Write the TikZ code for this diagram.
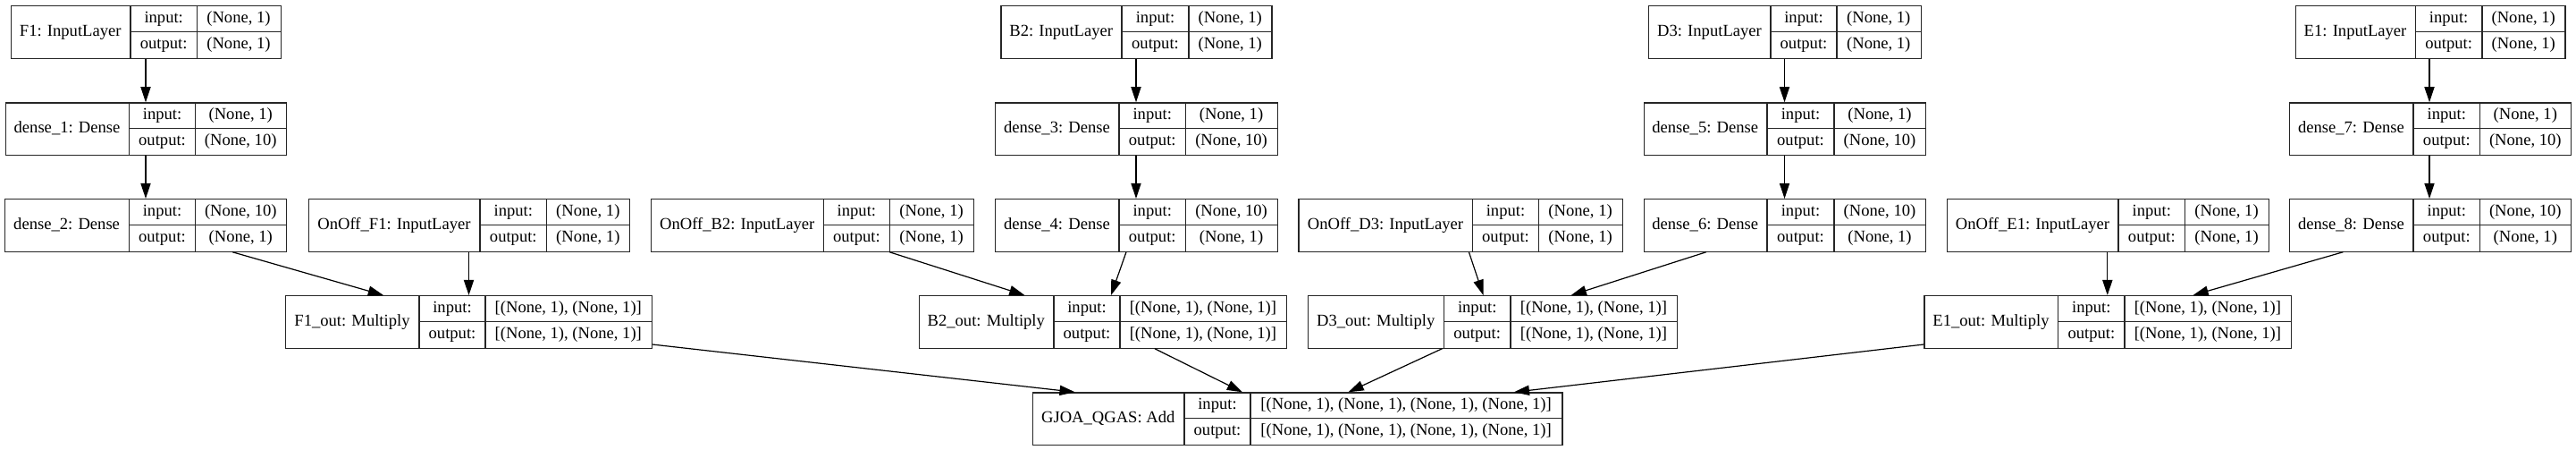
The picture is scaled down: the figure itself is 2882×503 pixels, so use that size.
\documentclass[tikz,border=0pt]{standalone}
\usepackage{fontspec}
\setmainfont{Liberation Serif}
\usetikzlibrary{arrows.meta,calc}
\tikzset{
  box/.style={draw=black!85, fill=white, line width=0.6pt, inner sep=0pt, minimum height=29.25pt},
  ln/.style={draw=black!85, line width=0.6pt},
  txt/.style={inner sep=0pt, font=\fontsize{9.3}{11}\selectfont, text height=6.6pt, text depth=2.1pt},
  arr/.style={draw=black, line width=0.6pt, -{Triangle[length=8.6pt,width=5.6pt]}}
}
\newcommand\layer[9]{%
  \pgfmathsetmacro\yb{#6+58.5}\pgfmathsetmacro\ym{#6+29.5}%
  \pgfmathsetmacro\ya{#6+14.9}\pgfmathsetmacro\yc{#6+44.1}%
  \pgfmathsetmacro\xa{(#2+#3)/2}\pgfmathsetmacro\xb{(#3+#4)/2}\pgfmathsetmacro\xc{(#4+#5)/2}%
  \node[box, minimum width={(#5-#2)*0.5pt}, anchor=north west] (#1) at (#2,#6) {};
  \draw[ln] (#3,#6) -- (#3,\yb) (#4,#6) -- (#4,\yb) (#3,\ym) -- (#5,\ym);
  \node[txt] (#1-name) at (\xa,\ym) {#7};
  \node[txt] (#1-in) at (\xb,\ya) {input:};
  \node[txt] (#1-out) at (\xb,\yc) {output:};
  \node[txt] (#1-inv) at (\xc,\ya) {#8};
  \node[txt] (#1-outv) at (\xc,\yc) {#9};
}
\begin{document}
\begin{tikzpicture}[x=0.5pt, y=-0.5pt]
\fill[white] (0,0) rectangle (2882,503);
\useasboundingbox (0,0) rectangle (2882,503);
% column F1
\layer{F1}{11.5}{146}{220.4}{313.6}{6}{F1: InputLayer}{(None, 1)}{(None, 1)}
\layer{d1}{5.5}{144.6}{218.5}{320}{114.3}{dense\_1: Dense}{(None, 1)}{(None, 10)}
\layer{d2}{4.8}{144.4}{218.6}{320}{222}{dense\_2: Dense}{(None, 10)}{(None, 1)}
\layer{onF1}{345}{537}{611.6}{704}{222}{OnOff\_F1: InputLayer}{(None, 1)}{(None, 1)}
\layer{F1out}{319}{469}{543}{728.6}{330}{F1\_out: Multiply}{[(None, 1), (None, 1)]}{[(None, 1), (None, 1)]}
% column B2
\layer{B2}{1119.4}{1255}{1330}{1422.4}{6}{B2: InputLayer}{(None, 1)}{(None, 1)}
\layer{d3}{1113}{1252}{1326.5}{1428.6}{114.3}{dense\_3: Dense}{(None, 1)}{(None, 10)}
\layer{onB2}{728}{921.4}{995.4}{1088.8}{222}{OnOff\_B2: InputLayer}{(None, 1)}{(None, 1)}
\layer{d4}{1112.8}{1252}{1326.5}{1428.6}{222}{dense\_4: Dense}{(None, 10)}{(None, 1)}
\layer{B2out}{1027.6}{1179}{1253}{1438.8}{330}{B2\_out: Multiply}{[(None, 1), (None, 1)]}{[(None, 1), (None, 1)]}
% column D3
\layer{D3}{1844}{1981}{2055}{2148.5}{6}{D3: InputLayer}{(None, 1)}{(None, 1)}
\layer{d5}{1838.5}{1977}{2052}{2154}{114.3}{dense\_5: Dense}{(None, 1)}{(None, 10)}
\layer{onD3}{1452.4}{1647.5}{1721.5}{1814.7}{222}{OnOff\_D3: InputLayer}{(None, 1)}{(None, 1)}
\layer{d6}{1838.5}{1977}{2052}{2154}{222}{dense\_6: Dense}{(None, 10)}{(None, 1)}
\layer{D3out}{1463}{1615.4}{1690}{1876}{330}{D3\_out: Multiply}{[(None, 1), (None, 1)]}{[(None, 1), (None, 1)]}
% column E1
\layer{E1}{2567.8}{2702.3}{2777}{2869.4}{6}{E1: InputLayer}{(None, 1)}{(None, 1)}
\layer{d7}{2560.8}{2700}{2774.6}{2876}{114.3}{dense\_7: Dense}{(None, 1)}{(None, 10)}
\layer{onE1}{2178}{2370}{2444.6}{2537.5}{222}{OnOff\_E1: InputLayer}{(None, 1)}{(None, 1)}
\layer{d8}{2560.8}{2700}{2774.6}{2876}{222}{dense\_8: Dense}{(None, 10)}{(None, 1)}
\layer{E1out}{2152.3}{2302.7}{2377}{2562.7}{330}{E1\_out: Multiply}{[(None, 1), (None, 1)]}{[(None, 1), (None, 1)]}
% sum
\layer{sum}{1154.5}{1325}{1399}{1747.3}{438.3}{GJOA\_QGAS: Add}{[(None, 1), (None, 1), (None, 1), (None, 1)]}{[(None, 1), (None, 1), (None, 1), (None, 1)]}
% connectors
\draw[arr] (F1.south -| 163,0) -- (d1.north -| 163,0);
\draw[arr] (d1.south -| 163,0) -- (d2.north -| 163,0);
\draw[arr] (B2.south -| 1271,0) -- (d3.north -| 1271,0);
\draw[arr] (d3.south -| 1271,0) -- (d4.north -| 1271,0);
\draw[arr] (D3.south -| 1996.5,0) -- (d5.north -| 1996.5,0);
\draw[arr] (d5.south -| 1996.5,0) -- (d6.north -| 1996.5,0);
\draw[arr] (E1.south -| 2718,0) -- (d7.north -| 2718,0);
\draw[arr] (d7.south -| 2718,0) -- (d8.north -| 2718,0);
\draw[arr] (d2.south -| 260,0) -- (F1out.north -| 429,0);
\draw[arr] (onF1.south -| 524.5,0) -- (F1out.north -| 524.5,0);
\draw[arr] (onB2.south -| 995,0) -- (B2out.north -| 1146.4,0);
\draw[arr] (d4.south -| 1260,0) -- (B2out.north -| 1243,0);
\draw[arr] (onD3.south -| 1643.4,0) -- (D3out.north -| 1659.5,0);
\draw[arr] (d6.south -| 1909,0) -- (D3out.north -| 1757.7,0);
\draw[arr] (onE1.south -| 2357.8,0) -- (E1out.north -| 2357.8,0);
\draw[arr] (d8.south -| 2621.5,0) -- (E1out.north -| 2453.5,0);
\draw[arr] (F1out.east |- 0,385) -- (sum.north -| 1202.7,0);
\draw[arr] (B2out.south -| 1291.8,0) -- (sum.north -| 1390,0);
\draw[arr] (D3out.south -| 1613.5,0) -- (sum.north -| 1508.5,0);
\draw[arr] (E1out.west |- 0,385) -- (sum.north -| 1693.8,0);
\end{tikzpicture}
\end{document}
